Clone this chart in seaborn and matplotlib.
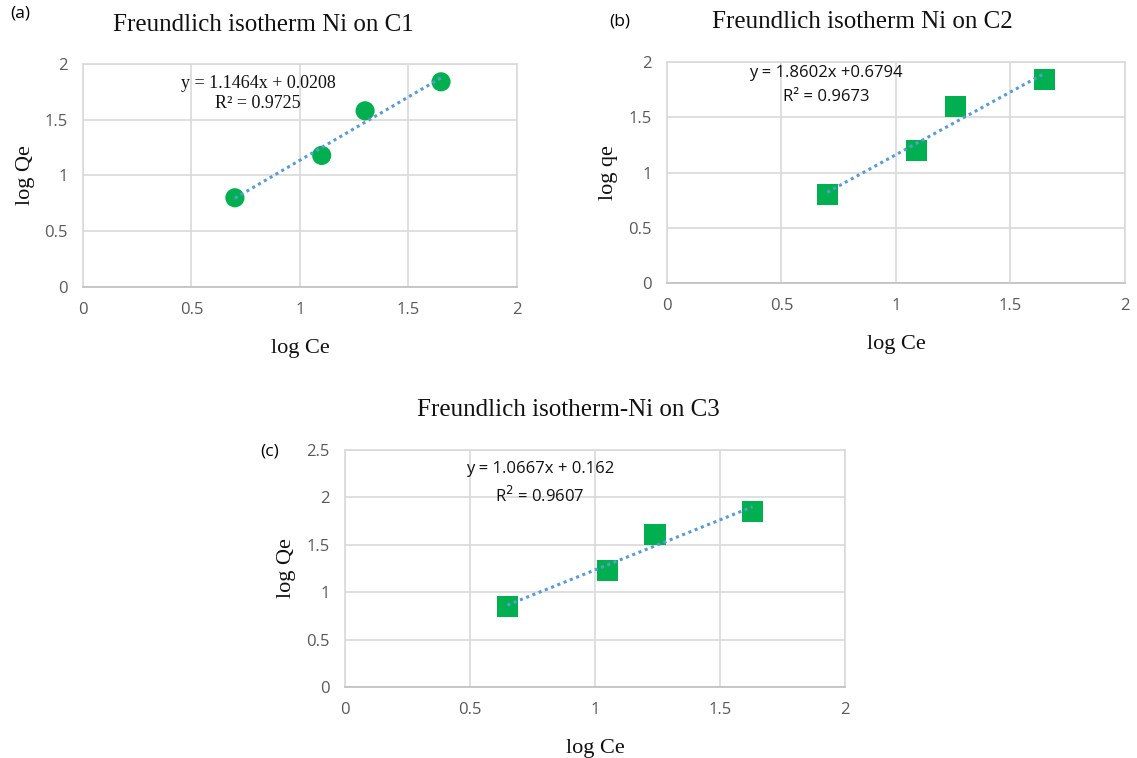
import matplotlib
matplotlib.use("Agg")
import matplotlib.pyplot as plt
import seaborn as sns
import pandas as pd

sns.set_theme(style="white")
plt.rcParams['font.family'] = ['Open Sans', 'DejaVu Sans']

# Data
ce_c1 = [0.70, 1.10, 1.30, 1.65]
qe_c1 = [0.80, 1.18, 1.58, 1.84]
ce_c2 = [0.70, 1.09, 1.26, 1.65]
qe_c2 = [0.80, 1.20, 1.60, 1.84]
ce_c3 = [0.65, 1.05, 1.24, 1.63]
qe_c3 = [0.85, 1.23, 1.61, 1.85]

titles = ["Freundlich isotherm Ni on C1", "Freundlich isotherm Ni on C2",
          "Freundlich isotherm-Ni on C3"]
ylabels = ["log Qe", "log qe", "log Qe"]
xlabel = "log Ce"
equations = [("y = 1.1464x + 0.0208", "R² = 0.9725"),
             ("y = 1.8602x +0.6794", "R² = 0.9673"),
             ("y = 1.0667x + 0.162", "R$^2$ = 0.9607")]
panel_tags = ["(a)", "(b)", "(c)"]
x_ticks = [0, 0.5, 1, 1.5, 2]
y_ticks = [[0, 0.5, 1, 1.5, 2], [0, 0.5, 1, 1.5, 2], [0, 0.5, 1, 1.5, 2, 2.5]]

GREEN = "#00B050"
BLUE = "#5B9BD5"
GRID = "#D9D9D9"
TICKC = "#595959"
TXT = "#111111"
SERIF = ['Liberation Serif', 'DejaVu Serif']

fig = plt.figure(figsize=(11.37, 7.58), dpi=100)
positions = [[0.073, 0.6214, 0.3817, 0.2942],
             [0.5866, 0.6266, 0.4028, 0.2916],
             [0.3034, 0.0937, 0.4398, 0.3127]]
data = [(ce_c1, qe_c1, "o"), (ce_c2, qe_c2, "s"), (ce_c3, qe_c3, "s")]

for i, (pos, (xs, ys, mk)) in enumerate(zip(positions, data)):
    ax = fig.add_axes(pos)
    df = pd.DataFrame({"x": xs, "y": ys})
    sns.regplot(data=df, x="x", y="y", ax=ax, scatter=False, ci=None,
                line_kws=dict(color=BLUE, linestyle=(0, (1, 1.2)), linewidth=2.2, zorder=3))
    sns.scatterplot(data=df, x="x", y="y", ax=ax, marker=mk, s=190 if mk == "o" else 230,
                    color=GREEN, edgecolor="none", linewidth=0, zorder=2)
    ax.set_xlim(0, 2)
    ax.set_ylim(0, y_ticks[i][-1])
    ax.set_xticks(x_ticks)
    ax.set_yticks(y_ticks[i])
    ax.set_xticklabels([f"{t:g}" for t in x_ticks])
    ax.set_yticklabels([f"{t:g}" for t in y_ticks[i]])
    ax.grid(True, color=GRID, linewidth=1.2)
    ax.set_axisbelow(True)
    for s in ax.spines.values():
        s.set_color(GRID)
        s.set_linewidth(1.2)
    ax.spines['bottom'].set_color("#BFBFBF")
    ax.tick_params(axis='both', length=0, labelsize=12, labelcolor=TICKC, pad=11)
    ax.set_xlabel(xlabel, fontsize=16, family=SERIF, color=TXT, labelpad=15)
    ax.set_ylabel(ylabels[i], fontsize=16, family=SERIF, color=TXT, labelpad=7)

# titles
fig.text(263/1137, 1 - 25/758, titles[0], family=SERIF, fontsize=18, ha='center', va='center', color=TXT)
fig.text(862/1137, 1 - 22/758, titles[1], family=SERIF, fontsize=18, ha='center', va='center', color=TXT)
fig.text(568/1137, 1 - 410/758, titles[2], family=SERIF, fontsize=18, ha='center', va='center', color=TXT)

# equations
fig.text(258/1137, 1 - 84/758, equations[0][0], family=SERIF, fontsize=13, ha='center', va='center', color=TXT)
fig.text(258/1137, 1 - 103/758, equations[0][1], family=SERIF, fontsize=13, ha='center', va='center', color=TXT)
fig.text(826/1137, 1 - 73/758, equations[1][0], fontsize=12, ha='center', va='center', color=TXT)
fig.text(826/1137, 1 - 97/758, equations[1][1], fontsize=12, ha='center', va='center', color=TXT)
fig.text(540/1137, 1 - 469/758, equations[2][0], fontsize=12, ha='center', va='center', color=TXT)
fig.text(540/1137, 1 - 496/758, equations[2][1], fontsize=12, ha='center', va='center', color=TXT)

# panel tags
fig.text(20/1137, 1 - 14/758, panel_tags[0], fontsize=12.5, ha='center', va='center', color="black")
fig.text(620/1137, 1 - 21/758, panel_tags[1], fontsize=12.5, ha='center', va='center', color="black")
fig.text(270/1137, 1 - 451/758, panel_tags[2], fontsize=12.5, ha='center', va='center', color="black")

fig.savefig("out.png", dpi=100, facecolor="white")
